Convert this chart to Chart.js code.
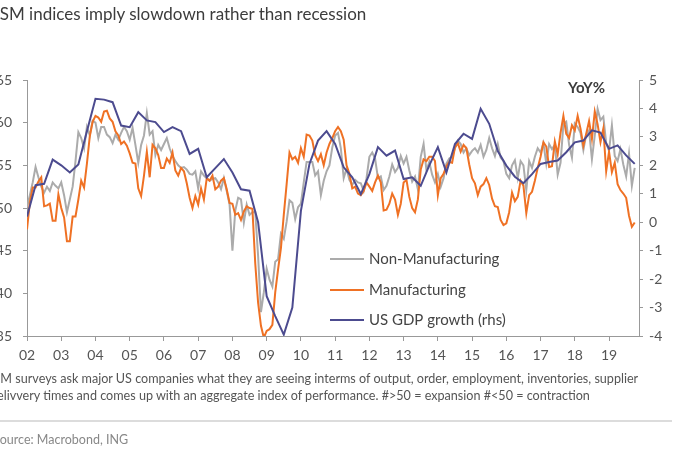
<!DOCTYPE html>
<html>
<head>
<meta charset="utf-8">
<script src="https://cdn.jsdelivr.net/npm/chart.js@4.4.0/dist/chart.umd.min.js"></script>
<style>
	html, body { margin: 0; padding: 0; background: #fff; }
	body { width: 700px; height: 450px; position: relative; overflow: hidden; font-family: Lato, 'Open Sans', sans-serif; }
	#wrap { position: absolute; left: -4px; top: 0; width: 704px; height: 450px; }
	.title { position: absolute; left: -5px; top: 3px; font-size: 17px; color: #3c3c3c; white-space: nowrap; }
	.yoy { position: absolute; left: 568px; top: 78px; font-size: 15px; font-weight: bold; color: #3c3c3c; }
	.note { position: absolute; left: -10px; top: 370px; font-size: 12.6px; line-height: 17px; color: #555; white-space: nowrap; }
	.rule { position: absolute; left: 0; top: 420px; width: 672px; height: 2px; background: #dcdcdc; }
	.source { position: absolute; left: -7px; top: 432px; font-size: 12.5px; color: #888; white-space: nowrap; }
</style>
</head>
<body>
<div id="wrap"><canvas id="chart" width="704" height="450"></canvas></div>
<div class="title">ISM indices imply slowdown rather than recession</div>
<div class="yoy">YoY%</div>
<div class="note">ISM surveys ask major US companies what they are seeing interms of output, order, employment, inventories, supplier<br>delivvery times and comes up with an aggregate index of performance. #&gt;50 = expansion #&lt;50 = contraction</div>
<div class="rule"></div>
<div class="source">Source: Macrobond, ING</div>

<script>
// monthly, Jan 2002 - Oct 2019
const monthStart = 2002;
const nonManufacturing = [
	50.1, 51.5, 53.0, 54.8, 53.6, 52.5, 51.8, 52.5, 52.0, 53.0, 52.6, 52.3,
	53.0, 51.5, 49.5, 51.0, 52.5, 55.5, 58.9, 58.2, 57.0, 59.5, 58.5, 60.2,
	60.0, 58.2, 59.5, 59.5, 58.6, 58.3, 57.6, 58.6, 58.0, 58.8, 59.5, 59.0,
	58.0, 59.4, 57.4, 55.3, 57.4, 58.5, 61.1, 58.6, 59.0, 56.2, 57.4, 56.8,
	57.5, 58.2, 57.0, 56.1, 55.5, 55.0, 54.7, 54.8, 54.5, 54.0, 53.9, 54.3,
	52.3, 54.3, 53.8, 53.5, 53.2, 53.4, 53.5, 53.0, 52.2, 53.5, 52.0, 50.4,
	45.0, 49.7, 51.2, 51.0, 48.3, 50.4, 49.2, 49.5, 49.5, 44.4, 37.8, 40.1,
	42.9, 41.6, 40.8, 43.7, 44.0, 47.0, 46.4, 48.4, 50.9, 50.6, 48.7, 50.1,
	50.5, 53.0, 55.4, 55.4, 55.4, 53.8, 54.3, 51.5, 53.2, 54.3, 55.0, 57.1,
	58.5, 58.8, 57.0, 53.5, 54.6, 53.3, 52.7, 53.3, 53.0, 52.9, 52.0, 53.5,
	56.0, 56.5, 55.8, 53.5, 53.7, 52.1, 52.6, 53.7, 55.1, 54.2, 54.7, 56.1,
	55.2, 56.0, 54.4, 53.1, 53.7, 52.2, 56.0, 57.5, 54.4, 55.4, 53.9, 53.0,
	54.0, 52.5, 53.5, 55.2, 55.8, 56.0, 57.0, 57.9, 57.5, 56.5, 57.0, 56.2,
	56.7, 57.0, 56.5, 57.4, 56.0, 56.8, 58.2, 57.0, 56.1, 57.5, 55.9, 55.5,
	54.0, 53.5, 55.0, 55.6, 53.5, 55.5, 55.0, 52.1, 55.5, 54.7, 56.0, 57.0,
	56.5, 57.6, 55.2, 57.5, 56.9, 57.4, 53.9, 55.3, 59.8, 60.1, 57.4, 55.9,
	59.9, 59.5, 58.8, 56.8, 58.6, 59.1, 55.7, 58.5, 61.6, 60.3, 60.7, 57.6,
	56.7, 59.7, 56.1, 55.5, 56.9, 55.1, 53.7, 56.4, 52.6, 54.7
];
const manufacturing = [
	47.5, 50.7, 52.4, 52.4, 53.1, 53.6, 50.2, 50.3, 50.5, 48.5, 48.5, 51.6,
	50.0, 48.9, 46.1, 46.1, 49.0, 49.0, 51.0, 53.2, 52.4, 55.2, 58.4, 60.1,
	60.8, 60.6, 60.1, 61.3, 61.4, 60.5, 60.1, 59.0, 58.5, 57.5, 57.8, 57.3,
	56.4, 55.3, 55.2, 52.3, 51.4, 53.8, 56.6, 53.6, 57.4, 57.0, 56.2, 54.7,
	54.7, 55.8, 55.3, 56.5, 54.4, 53.8, 54.7, 54.3, 52.9, 51.2, 50.0, 51.4,
	50.4, 52.3, 51.0, 53.5, 53.2, 53.8, 52.2, 52.5, 53.2, 53.5, 52.2, 50.6,
	50.5, 49.2, 49.4, 48.6, 49.6, 50.2, 50.0, 49.9, 43.5, 38.9, 36.2, 34.8,
	35.6, 35.8, 36.3, 40.1, 42.8, 45.3, 49.2, 52.8, 56.5, 55.7, 56.0, 55.3,
	57.0, 56.0, 58.6, 58.5, 57.9, 56.2, 55.5, 56.3, 55.0, 56.5, 57.5, 58.2,
	59.0, 59.5, 59.0, 58.0, 55.0, 54.0, 52.3, 52.5, 51.7, 51.5, 52.0, 53.0,
	52.5, 52.0, 53.0, 53.8, 53.0, 49.7, 49.8, 50.5, 51.7, 51.0, 49.2, 50.5,
	53.0, 53.3, 51.3, 50.0, 49.5, 51.0, 54.5, 55.7, 55.5, 56.0, 56.0, 55.5,
	51.5, 53.5, 54.0, 54.9, 55.4, 55.3, 57.1, 57.6, 56.6, 57.4, 57.0, 55.1,
	53.5, 52.9, 51.5, 52.5, 52.8, 53.5, 52.7, 51.1, 50.2, 50.1, 48.6, 48.0,
	48.2, 49.5, 51.8, 50.8, 51.3, 53.2, 52.6, 49.4, 51.5, 51.9, 53.2, 54.7,
	56.0, 57.7, 57.2, 54.8, 54.9, 57.8, 56.3, 58.8, 60.8, 58.7, 58.2, 59.7,
	59.1, 60.8, 59.3, 57.3, 58.7, 60.2, 58.1, 61.3, 59.8, 57.7, 59.3, 54.3,
	56.6, 54.2, 55.3, 52.8, 52.1, 51.7, 51.2, 49.1, 47.8, 48.3
];
// quarterly, 2001Q4 - 2019Q3, plotted at quarter end
const gdpStart = 2002;
const gdpGrowth = [
	0.2,
	1.3, 1.35, 2.2, 2.0,
	1.75, 2.03, 3.2, 4.34,
	4.31, 4.22, 3.4, 3.34,
	3.87, 3.58, 3.52, 3.17,
	3.34, 3.2, 2.4, 2.58,
	1.58, 1.9, 2.22, 1.75,
	1.16, 1.11, 0.0, -2.6,
	-3.3, -3.95, -3.0, 0.4,
	2.05, 2.87, 3.2, 2.75,
	1.93, 1.58, 0.99, 1.69,
	2.64, 2.34, 2.52, 1.52,
	1.58, 1.28, 2.0, 2.64,
	1.75, 2.75, 3.11, 2.93,
	3.99, 3.46, 2.5, 1.99,
	1.6, 1.37, 1.69, 2.05,
	2.12, 2.17, 2.46, 2.81,
	2.87, 3.23, 3.15, 2.58,
	2.70, 2.35, 2.05
];
const seriesNames = ['Non-Manufacturing', 'Manufacturing', 'US GDP growth (rhs)'];
const seriesColors = ['#ababab', '#ef7124', '#4c4b8f'];

const leftTicks = { min: 35, max: 65, step: 5 };
const rightTicks = { min: -4, max: 5, step: 1 };
const yearRange = { min: 2002, max: 2019.875 };

Chart.defaults.font.family = 'Lato, "Open Sans", sans-serif';
Chart.defaults.color = '#555';

let monthly = (arr) => arr.map((v, i) => ({ x: monthStart + i / 12, y: v }));
let quarterly = (arr) => arr.map((v, i) => ({ x: gdpStart + i / 4, y: v }));

// legend sits inside the plot, bottom middle
const insideLegend = {
	id: 'insideLegend',
	afterDraw(chart) {
		let ctx = chart.ctx;
		let rowsY = [259, 290, 320];
		ctx.save();
		ctx.font = '15px Lato, "Open Sans", sans-serif';
		ctx.textBaseline = 'middle';
		chart.data.datasets.forEach((ds, i) => {
			let y = rowsY[i];
			ctx.strokeStyle = ds.borderColor;
			ctx.lineWidth = 2;
			ctx.beginPath();
			ctx.moveTo(334, y);
			ctx.lineTo(368, y);
			ctx.stroke();
			ctx.fillStyle = '#444';
			ctx.fillText(ds.label, 373, y);
		});
		ctx.restore();
	}
};

let axisGrid = { drawOnChartArea: false, drawTicks: true, tickLength: 5, color: '#999' };

new Chart(document.getElementById('chart'), {
	type: 'line',
	data: {
		datasets: [
			{ label: seriesNames[0], data: monthly(nonManufacturing), borderColor: seriesColors[0], yAxisID: 'y', order: 2 },
			{ label: seriesNames[1], data: monthly(manufacturing), borderColor: seriesColors[1], yAxisID: 'y', order: 1 },
			{ label: seriesNames[2], data: quarterly(gdpGrowth), borderColor: seriesColors[2], yAxisID: 'y1', order: 0 }
		]
	},
	options: {
		responsive: false,
		animation: false,
		layout: { padding: { top: 80, bottom: 84, left: 0, right: 0 } },
		elements: {
			point: { radius: 0 },
			line: { borderWidth: 2, tension: 0 }
		},
		plugins: {
			legend: { display: false },
			tooltip: { enabled: false }
		},
		scales: {
			x: {
				type: 'linear',
				min: yearRange.min,
				max: yearRange.max,
				border: { color: '#999' },
				grid: axisGrid,
				ticks: {
					stepSize: 1,
					includeBounds: false,
					autoSkip: false,
					maxRotation: 0,
					padding: 6,
					font: { size: 14 },
					callback: (v) => String(v).slice(2)
				},
				afterFit: (s) => { s.height = 30; }
			},
			y: {
				position: 'left',
				min: leftTicks.min,
				max: leftTicks.max,
				border: { color: '#999' },
				grid: { drawOnChartArea: false, tickLength: 4, color: '#999' },
				ticks: { stepSize: leftTicks.step, padding: 11, font: { size: 14 } },
				afterFit: (s) => { s.width = 31; }
			},
			y1: {
				position: 'right',
				min: rightTicks.min,
				max: rightTicks.max,
				border: { color: '#999' },
				grid: { drawOnChartArea: false, tickLength: 4, color: '#999' },
				ticks: { stepSize: rightTicks.step, padding: 6, font: { size: 14 } },
				afterFit: (s) => { s.width = 61; }
			}
		}
	},
	plugins: [insideLegend]
});
</script>
</body>
</html>
